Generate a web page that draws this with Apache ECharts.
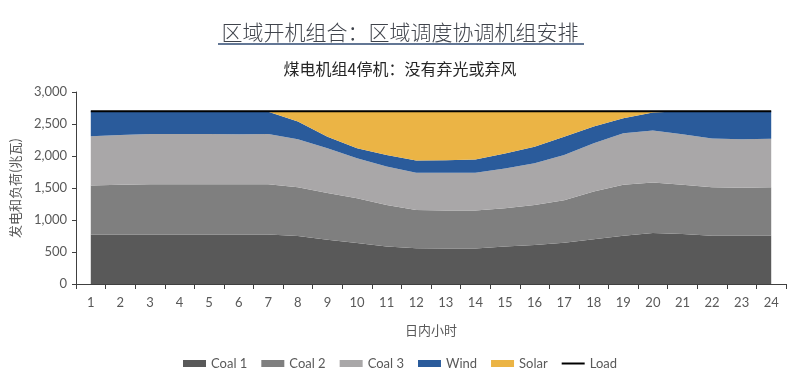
<!DOCTYPE html>
<html>
<head>
<meta charset="utf-8">
<script src="https://cdn.jsdelivr.net/npm/echarts@6/dist/echarts.min.js"></script>
<style>html,body{margin:0;padding:0;background:#fff;}#c{width:800px;height:381px;}</style>
</head>
<body>
<div id="c"></div>
<script>
const hours = ['1','2','3','4','5','6','7','8','9','10','11','12','13','14','15','16','17','18','19','20','21','22','23','24'];
const coal1 = [775,775,775,775,775,775,775,750,690,640,585,560,555,555,585,610,645,700,755,795,780,755,755,755];
const coal2 = [765,775,785,785,785,785,785,760,730,700,650,595,595,595,600,625,665,745,795,790,770,755,750,755];
const coal3 = [770,780,785,785,785,780,785,750,700,625,600,585,590,590,620,650,705,755,805,815,790,765,755,760];
const wind  = [390,370,355,355,355,360,345,280,180,155,180,190,195,205,235,260,285,260,235,280,360,425,440,430];
const solar = [0,0,0,0,0,0,10,160,400,580,685,770,765,755,660,555,400,240,110,20,0,0,0,0];
const load  = [2700,2700,2700,2700,2700,2700,2700,2700,2700,2700,2700,2700,2700,2700,2700,2700,2700,2700,2700,2700,2700,2700,2700,2700];
const yTicks = [0,500,1000,1500,2000,2500,3000];

const titleText = '区域开机组合：区域调度协调机组安排';
const subText = '煤电机组4停机：没有弃光或弃风';
const labelFont = 'Lato, "Open Sans", sans-serif';
const cjk = '"Noto Sans CJK SC", sans-serif';

const chart = echarts.init(document.getElementById('c'));
function area(name, data, color) {
  return {
    name, type: 'line', stack: 'total', data, symbol: 'none', showSymbol: false,
    lineStyle: { width: 0 }, areaStyle: { color, opacity: 1 }, itemStyle: { color },
    emphasis: { disabled: true }
  };
}
chart.setOption({
  animation: false,
  title: [
    { text: titleText, left: 'center', top: 17,
      textStyle: { fontFamily: cjk, fontSize: 21, fontWeight: 300, color: '#3f434b' } },
    { text: subText, left: 'center', top: 56,
      textStyle: { fontFamily: cjk, fontSize: 16, fontWeight: 400, color: '#262626' } }
  ],
  graphic: [{
    type: 'line', shape: { x1: 218, y1: 44, x2: 584, y2: 44 },
    style: { stroke: '#2f4a72', lineWidth: 1.5 }
  }],
  grid: { left: 76, right: 14, top: 92, bottom: 97 },
  legend: {
    bottom: 6, left: 'center', itemWidth: 23, itemHeight: 7, itemGap: 14,
    textStyle: { fontFamily: labelFont, fontSize: 13, color: '#595959' },
    data: [
      { name: 'Coal 1', icon: 'rect' }, { name: 'Coal 2', icon: 'rect' },
      { name: 'Coal 3', icon: 'rect' }, { name: 'Wind', icon: 'rect' },
      { name: 'Solar', icon: 'rect' },
      { name: 'Load', icon: 'path://M0,0 L30,0 L30,2.6 L0,2.6 Z', itemStyle: { color: '#000' } }
    ]
  },
  xAxis: {
    type: 'category', data: hours, boundaryGap: true,
    name: '日内小时', nameLocation: 'middle', nameGap: 40,
    nameTextStyle: { fontFamily: cjk, fontSize: 13, color: '#595959' },
    axisLine: { lineStyle: { color: '#404040', width: 1 } },
    axisTick: { show: true, alignWithLabel: false, length: 5, lineStyle: { color: '#404040' } },
    axisLabel: { fontFamily: labelFont, fontSize: 13, color: '#595959', margin: 12 }
  },
  yAxis: {
    type: 'value', min: 0, max: 3000, interval: 500,
    name: '发电和负荷(兆瓦)', nameLocation: 'middle', nameGap: 54, nameRotate: 90,
    nameTextStyle: { fontFamily: cjk, fontSize: 13, color: '#595959' },
    axisLine: { show: true, lineStyle: { color: '#404040' } },
    axisTick: { show: true, length: 4, lineStyle: { color: '#404040' } },
    splitLine: { show: false },
    axisLabel: { fontFamily: labelFont, fontSize: 13, color: '#595959', margin: 9,
      formatter: v => yTicks.includes(v) ? v.toLocaleString('en-US') : '' }
  },
  series: [
    area('Coal 1', coal1, '#595959'),
    area('Coal 2', coal2, '#7f7f7f'),
    area('Coal 3', coal3, '#a9a7a8'),
    area('Wind', wind, '#2a5b9b'),
    area('Solar', solar, '#ebb445'),
    { name: 'Load', type: 'line', data: load, symbol: 'none', showSymbol: false,
      lineStyle: { color: '#000', width: 2 }, itemStyle: { color: '#000' }, z: 5 }
  ]
});
</script>
</body>
</html>
